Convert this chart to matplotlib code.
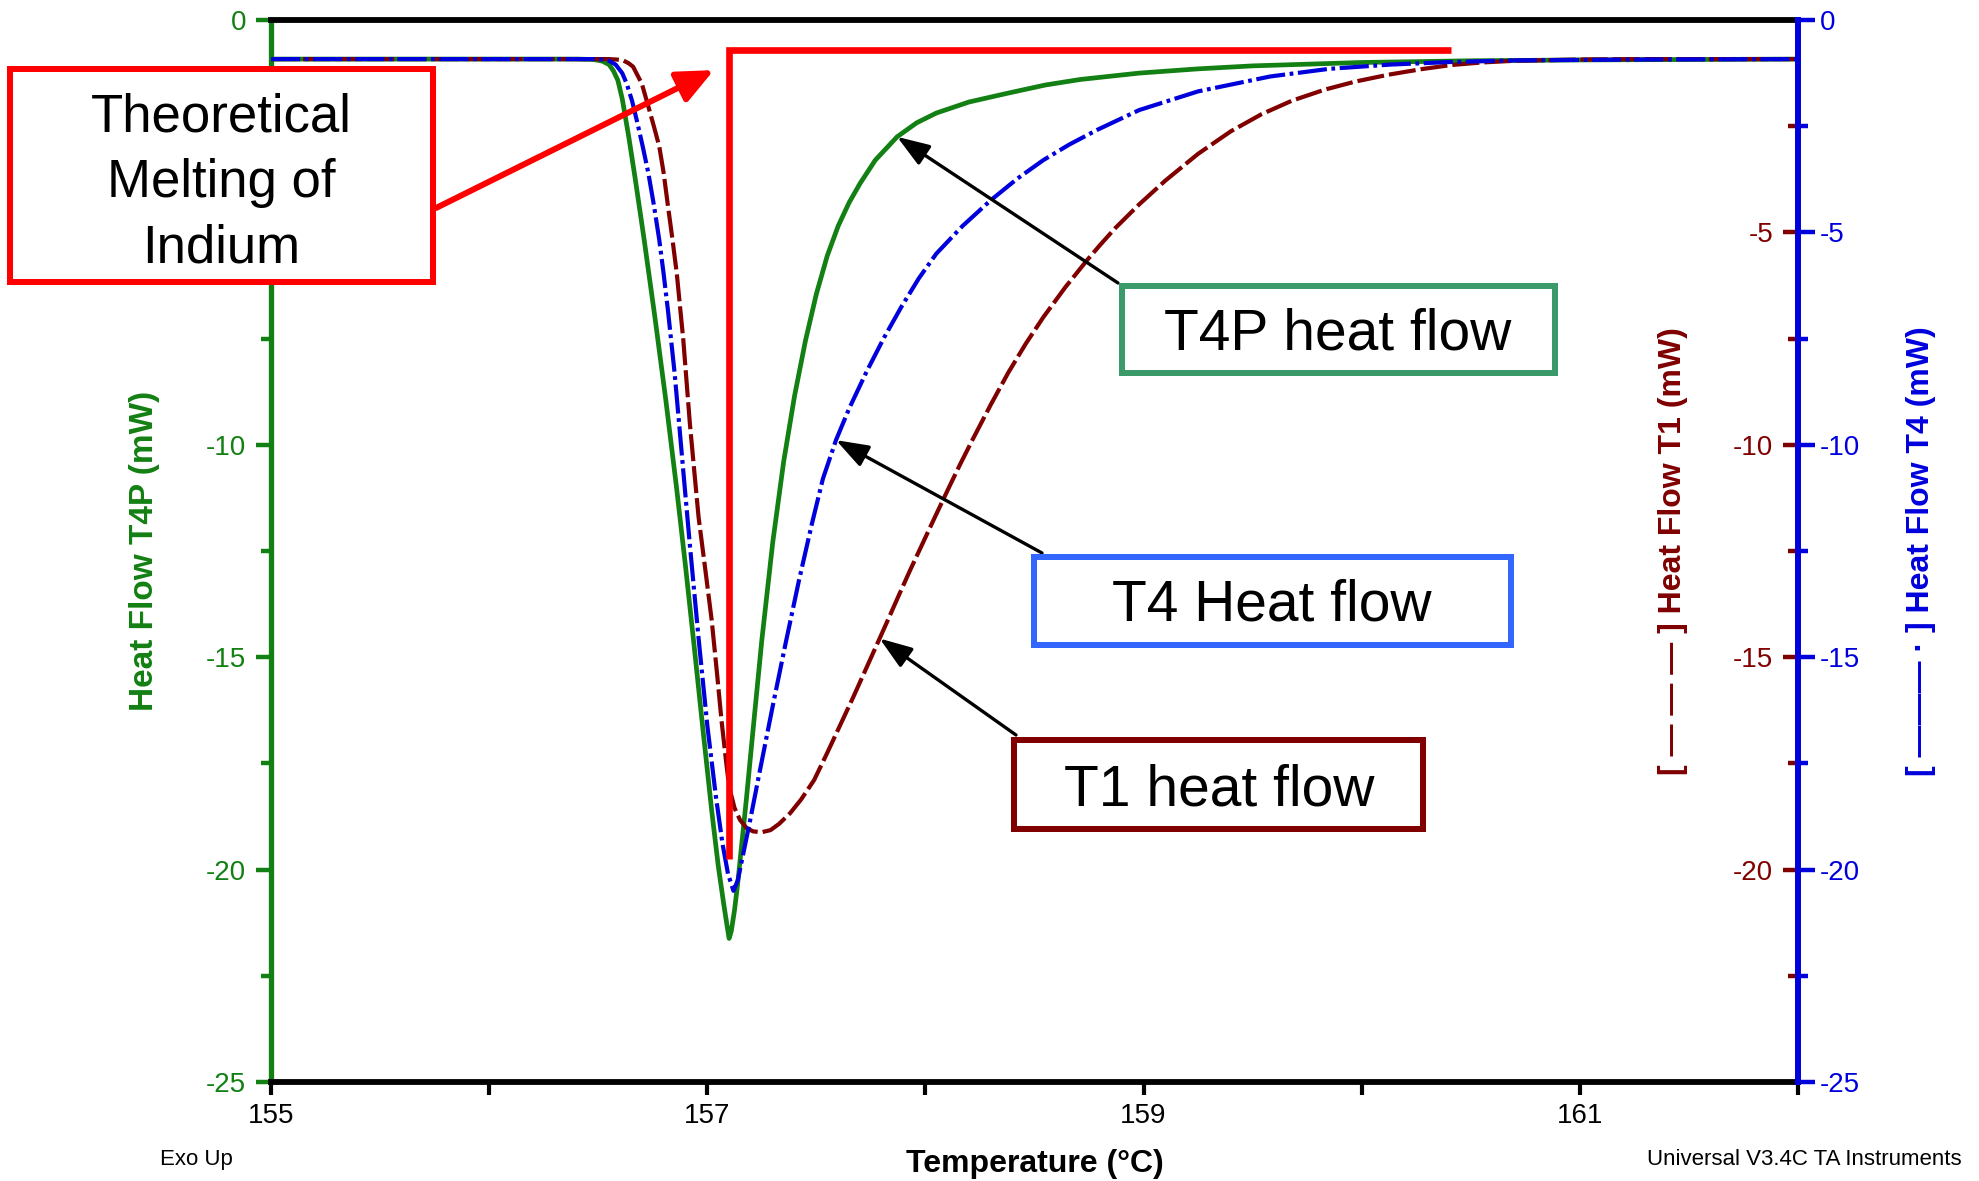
import numpy as np
import matplotlib
matplotlib.use("Agg")
import matplotlib.pyplot as plt
from matplotlib import font_manager
from matplotlib.patches import Rectangle

# ---------------- data ----------------
t4p_temp = [155.0, 156.0, 156.40, 156.48, 156.52, 156.55, 156.57, 156.59, 156.61, 156.64,
            156.67, 156.71, 156.76, 156.81, 156.86, 156.90, 156.94, 156.98, 157.02, 157.05,
            157.075, 157.09, 157.10, 157.11, 157.125, 157.14, 157.16, 157.18, 157.21, 157.25,
            157.30, 157.35, 157.40, 157.45, 157.50, 157.55, 157.60, 157.65, 157.70, 157.77,
            157.87, 157.96, 158.05, 158.20, 158.38, 158.55, 158.71, 158.98, 159.25, 159.50,
            160.00, 160.50, 161.00, 162.00]
t4p_flow = [-0.92, -0.92, -0.92, -0.93, -0.97, -1.05, -1.20, -1.42, -1.85, -2.75,
            -3.75, -5.15, -7.00, -8.95, -11.05, -12.85, -14.75, -16.7, -18.6, -19.9,
            -20.8, -21.3, -21.62, -21.45, -20.95, -20.3, -19.3, -18.3, -16.7, -14.6,
            -12.3, -10.4, -8.85, -7.55, -6.45, -5.55, -4.85, -4.3, -3.85, -3.3,
            -2.75, -2.42, -2.19, -1.93, -1.72, -1.53, -1.40, -1.25, -1.15, -1.08,
            -1.00, -0.96, -0.94, -0.92]

t4_temp = [155.0, 156.0, 156.50, 156.55, 156.58, 156.61, 156.63, 156.655, 156.68, 156.705,
           156.73, 156.755, 156.78, 156.80, 156.82, 156.85, 156.87, 156.89, 156.92, 156.96,
           157.00, 157.04, 157.07, 157.095, 157.12, 157.14, 157.16, 157.196, 157.24, 157.30,
           157.36, 157.42, 157.48, 157.53, 157.59, 157.65, 157.73, 157.81, 157.89, 157.97,
           158.05, 158.17, 158.30, 158.42, 158.54, 158.66, 158.79, 158.98, 159.25, 159.58,
           159.85, 160.13, 160.40, 160.71, 161.30, 162.00]
t4_flow = [-0.92, -0.92, -0.92, -0.96, -1.05, -1.25, -1.49, -1.90, -2.43, -3.00,
           -3.61, -4.35, -5.18, -5.98, -6.85, -8.30, -9.45, -10.62, -12.35, -14.55,
           -16.6, -18.3, -19.4, -20.1, -20.5, -20.25, -19.75, -18.85, -17.7, -16.15,
           -14.65, -13.2, -11.85, -10.8, -9.89, -9.15, -8.28, -7.48, -6.75, -6.08,
           -5.50, -4.85, -4.24, -3.74, -3.30, -2.93, -2.58, -2.12, -1.68, -1.33,
           -1.15, -1.05, -0.99, -0.95, -0.93, -0.92]

t1_temp = [155.0, 156.0, 156.55, 156.61, 156.64, 156.66, 156.70, 156.73, 156.755, 156.78,
           156.80, 156.82, 156.84, 156.86, 156.89, 156.92, 156.94, 156.96, 156.99, 157.02,
           157.045, 157.065, 157.085, 157.10, 157.125, 157.15, 157.18, 157.21, 157.25, 157.29,
           157.33, 157.38, 157.43, 157.49, 157.55, 157.62, 157.67, 157.72, 157.79, 157.83,
           157.88, 157.93, 157.98, 158.04, 158.11, 158.16, 158.22, 158.30, 158.38, 158.46,
           158.54, 158.64, 158.74, 158.80, 158.87, 158.98, 159.10, 159.25, 159.40, 159.54,
           159.68, 159.83, 159.97, 160.12, 160.27, 160.41, 160.55, 160.70, 161.00, 161.28,
           162.0]
t1_flow = [-0.92, -0.92, -0.92, -0.94, -1.02, -1.10, -1.50, -2.04, -2.50, -2.98,
           -3.60, -4.39, -5.15, -5.96, -7.53, -9.49, -10.6, -11.7, -12.9, -14.12,
           -15.4, -16.48, -17.4, -18.05, -18.55, -18.83, -19.02, -19.1, -19.12, -19.07,
           -18.92, -18.67, -18.35, -17.89, -17.25, -16.48, -15.93, -15.36, -14.56, -14.10,
           -13.52, -12.95, -12.40, -11.74, -10.98, -10.45, -9.84, -9.05, -8.30, -7.62,
           -7.00, -6.30, -5.66, -5.30, -4.90, -4.34, -3.78, -3.15, -2.62, -2.22,
           -1.90, -1.64, -1.45, -1.29, -1.16, -1.06, -1.00, -0.96, -0.93, -0.92,
           -0.92]

melt_temp = [157.10, 157.10, 160.41]
melt_flow = [-19.75, -0.71, -0.71]

x_major = [155, 157, 159, 161]
x_minor = [156, 158, 160, 162]
y_major = [0, -5, -10, -15, -20, -25]
y_minor = [-2.5, -7.5, -12.5, -17.5, -22.5]
t1_major = [-5, -10, -15, -20]

# annotation anchors (temperature on each curve)
t4p_note_temp = 157.87
t4_note_temp = 157.59
t1_note_temp = 157.79
melt_arrow_tip = (157.03, -1.18)

# ---------------- style ----------------
W, H, DPI = 1979, 1181, 100
names = {f.name for f in font_manager.fontManager.ttflist}
BASE = "Liberation Sans" if "Liberation Sans" in names else "DejaVu Sans"
plt.rcParams["font.family"] = [BASE, "DejaVu Sans"]

GREEN = "#138013"
BLUE = "#0000DD"
DRED = "#800000"
RED = "#FF0000"

def fx(px):
    return px / W

def fy(py):
    return 1 - py / H

fig = plt.figure(figsize=(W / DPI, H / DPI), dpi=DPI)
L, R, T, B = 271, 1798, 20, 1082
ax = fig.add_axes([fx(L), fy(B), (R - L) / W, (B - T) / H])
ax_t1 = ax.twinx()
ax_t4 = ax.twinx()
for a in (ax, ax_t1, ax_t4):
    a.set_xlim(155, 162)
    a.set_ylim(-25, 0)

# curves
ax.plot(t4p_temp, t4p_flow, color=GREEN, lw=3.4, solid_capstyle="round",
        solid_joinstyle="round")
ax_t1.plot(t1_temp, t1_flow, color=DRED, lw=3.0, linestyle=(0, (6.5, 1.2)))
ax_t4.plot(t4_temp, t4_flow, color=BLUE, lw=3.0, linestyle=(0, (7, 1.1, 0.9, 1.1)))
ax_t4.plot(melt_temp, melt_flow, color=RED, lw=4.8, solid_joinstyle="miter",
           solid_capstyle="butt")

# spines
for s in ("top", "bottom"):
    ax.spines[s].set_color("black")
    ax.spines[s].set_linewidth(4.2)
ax.spines["left"].set_color(GREEN)
ax.spines["left"].set_linewidth(3.8)
ax.spines["right"].set_visible(False)
for s in ("top", "bottom", "right"):
    ax_t1.spines[s].set_visible(False)
ax_t1.spines["left"].set_position(("axes", 1.0))
ax_t1.spines["left"].set_visible(False)
for s in ("top", "bottom", "left"):
    ax_t4.spines[s].set_visible(False)
ax_t4.spines["right"].set_color(BLUE)
ax_t4.spines["right"].set_linewidth(4.3)

# x axis
ax.set_xticks(x_major)
ax.set_xticks(x_minor, minor=True)
ax.set_xticklabels([str(v) for v in x_major])
ax.tick_params(axis="x", which="both", direction="out", length=9, width=3.0,
               color="black", labelcolor="black", labelsize=20, pad=6)
ax.set_xlabel("Temperature (°C)", fontsize=23, fontweight="bold", va="baseline")
ax.xaxis.set_label_coords(0.5, (B - 1172) / (B - T))

# left (T4P) axis
ax.set_yticks(y_major)
ax.set_yticks(y_minor, minor=True)
ax.set_yticklabels([str(v) for v in y_major])
ax.tick_params(axis="y", which="major", direction="out", length=11, width=3.2,
               color=GREEN, labelcolor=GREEN, labelsize=20, pad=7)
ax.tick_params(axis="y", which="minor", direction="out", length=7, width=3.2, color=GREEN)
ax.set_ylabel("Heat Flow T4P (mW)", fontsize=24, fontweight="bold", color=GREEN)
ax.yaxis.set_label_coords((144 - L) / (R - L), 0.5)
ax.yaxis.label.set_va("center")

# T1 axis: ticks left of right spine
ax_t1.yaxis.tick_left()
ax_t1.yaxis.set_label_position("left")
ax_t1.set_yticks(t1_major)
ax_t1.set_yticks(y_minor, minor=True)
ax_t1.set_yticklabels([str(v) for v in t1_major])
ax_t1.tick_params(axis="y", which="major", direction="out", length=11, width=3.2,
                  color=DRED, labelcolor=DRED, labelsize=20, pad=7)
ax_t1.tick_params(axis="y", which="minor", direction="out", length=7, width=3.2, color=DRED)
ax_t1.set_ylabel("[ — — — ] Heat Flow T1 (mW)", fontsize=23, fontweight="bold", color=DRED)
ax_t1.yaxis.set_label_coords((1673 - L) / (R - L), 0.5)
ax_t1.yaxis.label.set_va("center")

# T4 axis: right
ax_t4.set_yticks(y_major)
ax_t4.set_yticks(y_minor, minor=True)
ax_t4.set_yticklabels([str(v) for v in y_major])
ax_t4.tick_params(axis="y", which="major", direction="out", length=12, width=3.2,
                  color=BLUE, labelcolor=BLUE, labelsize=20, pad=4)
ax_t4.tick_params(axis="y", which="minor", direction="out", length=7, width=3.2, color=BLUE)
ax_t4.set_ylabel("[ ——— · ] Heat Flow T4 (mW)", fontsize=23, fontweight="bold", color=BLUE)
ax_t4.yaxis.set_label_coords((1921 - L) / (R - L), 0.5)
ax_t4.yaxis.label.set_va("center")

# footer texts
fig.text(fx(160), fy(1165), "Exo Up", fontsize=16, ha="left", va="baseline")
fig.text(fx(1962), fy(1165), "Universal V3.4C TA Instruments", fontsize=16,
         ha="right", va="baseline")

# ---------------- annotation boxes ----------------
def box(x0, y0, x1, y1, color, lw_px=6):
    inset = lw_px / 2
    r = Rectangle((fx(x0 + inset), fy(y1 - inset)), (x1 - x0 - lw_px) / W,
                  (y1 - y0 - lw_px) / H, transform=fig.transFigure, fill=True,
                  facecolor="white", edgecolor=color, linewidth=lw_px * 72 / DPI,
                  zorder=5)
    fig.add_artist(r)

box(7, 66, 436, 285, RED)
fig.text(fx(221.5), fy(92), "Theoretical\nMelting of\nIndium", fontsize=38,
         ha="center", va="top", multialignment="center", linespacing=1.40, zorder=6)

box(1119, 283, 1558, 376, "#3A9A6A")
fig.text(fx(1338), fy(350), "T4P heat flow", fontsize=41, ha="center", va="baseline", zorder=6)

box(1031, 554, 1514, 648, "#3366FF")
fig.text(fx(1272), fy(621), "T4 Heat flow", fontsize=41, ha="center", va="baseline", zorder=6)

box(1011, 737, 1426, 832, DRED)
fig.text(fx(1219), fy(805), "T1 heat flow", fontsize=41, ha="center", va="baseline", zorder=6)

# arrows
def black_arrow(temp, temps, flows, start_px):
    tip = (temp, float(np.interp(temp, temps, flows)))
    ax_t4.annotate("", xy=tip, xycoords="data",
                   xytext=(start_px[0], H - start_px[1]), textcoords="figure pixels",
                   arrowprops=dict(arrowstyle="-|>,head_length=0.9,head_width=0.32",
                                   color="black", lw=2.4, mutation_scale=22,
                                   shrinkA=0, shrinkB=0))

black_arrow(t4p_note_temp, t4p_temp, t4p_flow, (1118, 283))
black_arrow(t4_note_temp, t4_temp, t4_flow, (1042, 553))
black_arrow(t1_note_temp, t1_temp, t1_flow, (1016, 735))

ax_t4.annotate("", xy=melt_arrow_tip, xycoords="data",
               xytext=(436, H - 208), textcoords="figure pixels",
               arrowprops=dict(arrowstyle="-|>,head_length=1.0,head_width=0.45",
                               color=RED, lw=4.3, mutation_scale=22,
                               shrinkA=0, shrinkB=0),
               annotation_clip=False)

fig.savefig("out.png", dpi=DPI)
